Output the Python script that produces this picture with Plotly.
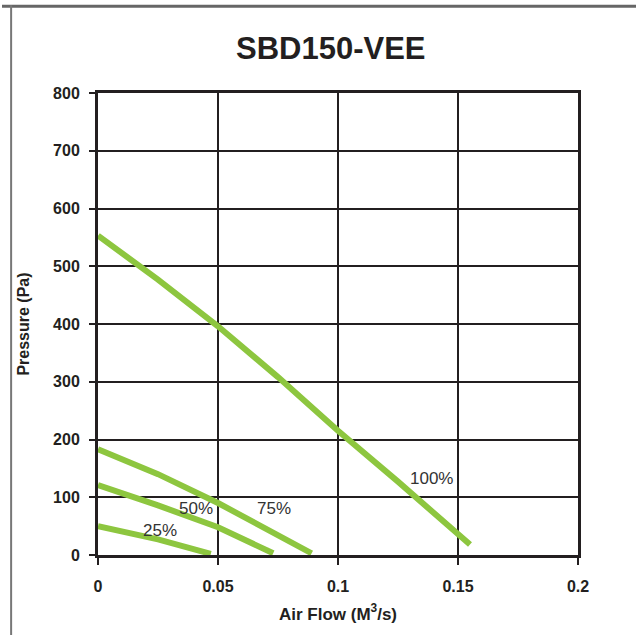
import plotly.graph_objects as go

# Data
flow_100 = [0.0, 0.025, 0.05, 0.075, 0.100, 0.125, 0.155]
pres_100 = [553, 477, 396, 308, 215, 127, 18]
flow_75 = [0.0, 0.025, 0.050, 0.070, 0.089]
pres_75 = [183, 140, 90, 46, 3]
flow_50 = [0.0, 0.025, 0.050, 0.073]
pres_50 = [121, 86, 48, 3]
flow_25 = [0.0, 0.025, 0.047]
pres_25 = [50, 27, 2]

labels = ["100%", "75%", "50%", "25%"]
label_x = [0.1388, 0.0735, 0.041, 0.026]
label_y = [133, 81, 81, 43]

x_ticks = [0, 0.05, 0.1, 0.15, 0.2]
x_ticktext = ["0", "0.05", "0.1", "0.15", "0.2"]
y_ticks = [0, 100, 200, 300, 400, 500, 600, 700, 800]

GREEN = "#8DC63F"
INK = "#231F20"
FONT = "Liberation Sans"

fig = go.Figure()
for fx, py in [(flow_100, pres_100), (flow_75, pres_75), (flow_50, pres_50), (flow_25, pres_25)]:
    fig.add_trace(go.Scatter(x=fx, y=py, mode="lines",
                             line=dict(color=GREEN, width=6),
                             showlegend=False, hoverinfo="skip"))

for t, lx, ly in zip(labels, label_x, label_y):
    fig.add_annotation(x=lx, y=ly, text=t, showarrow=False,
                       font=dict(family=FONT, size=17, color="#333333"))

# outer page border (top and left)
fig.add_shape(type="line", xref="paper", yref="paper", x0=-0.2, x1=1.13, y0=1.188, y1=1.188,
              line=dict(color="#666666", width=3))
fig.add_shape(type="line", xref="paper", yref="paper", x0=-0.181, x1=-0.181, y0=-0.2, y1=1.19,
              line=dict(color="#777777", width=2))

fig.update_layout(
    width=636, height=635,
    margin=dict(l=98, r=58, t=93, b=80),
    paper_bgcolor="white", plot_bgcolor="white",
    title=dict(text="<b>SBD150-VEE</b>", x=0.52, xanchor="center", y=0.924, yanchor="middle",
               font=dict(family=FONT, size=31, color=INK)),
    xaxis=dict(range=[0, 0.2], tickvals=x_ticks, ticktext=x_ticktext,
               showgrid=True, gridcolor=INK, gridwidth=2,
               showline=True, linecolor=INK, linewidth=3, mirror=True,
               ticks="outside", ticklen=7, tickwidth=2, tickcolor=INK,
               ticklabelstandoff=8,
               tickfont=dict(family=FONT, size=16, color=INK, weight="bold"),
               title=dict(text="<b>Air Flow (M<sup>3</sup>/s)</b>", standoff=14,
                          font=dict(family=FONT, size=17, color=INK)),
               zeroline=False, fixedrange=True),
    yaxis=dict(range=[0, 800], tickvals=y_ticks,
               showgrid=True, gridcolor=INK, gridwidth=2,
               showline=True, linecolor=INK, linewidth=3, mirror=True,
               ticks="outside", ticklen=6, tickwidth=1.5, tickcolor=INK,
               ticklabelstandoff=6,
               tickfont=dict(family=FONT, size=16, color=INK, weight="bold"),
               title=dict(text="<b>Pressure (Pa)</b>", standoff=20,
                          font=dict(family=FONT, size=16, color=INK)),
               zeroline=False, fixedrange=True),
)

fig.write_html("out.html", config={"displayModeBar": False},
               post_script="document.body.style.margin='0';")
